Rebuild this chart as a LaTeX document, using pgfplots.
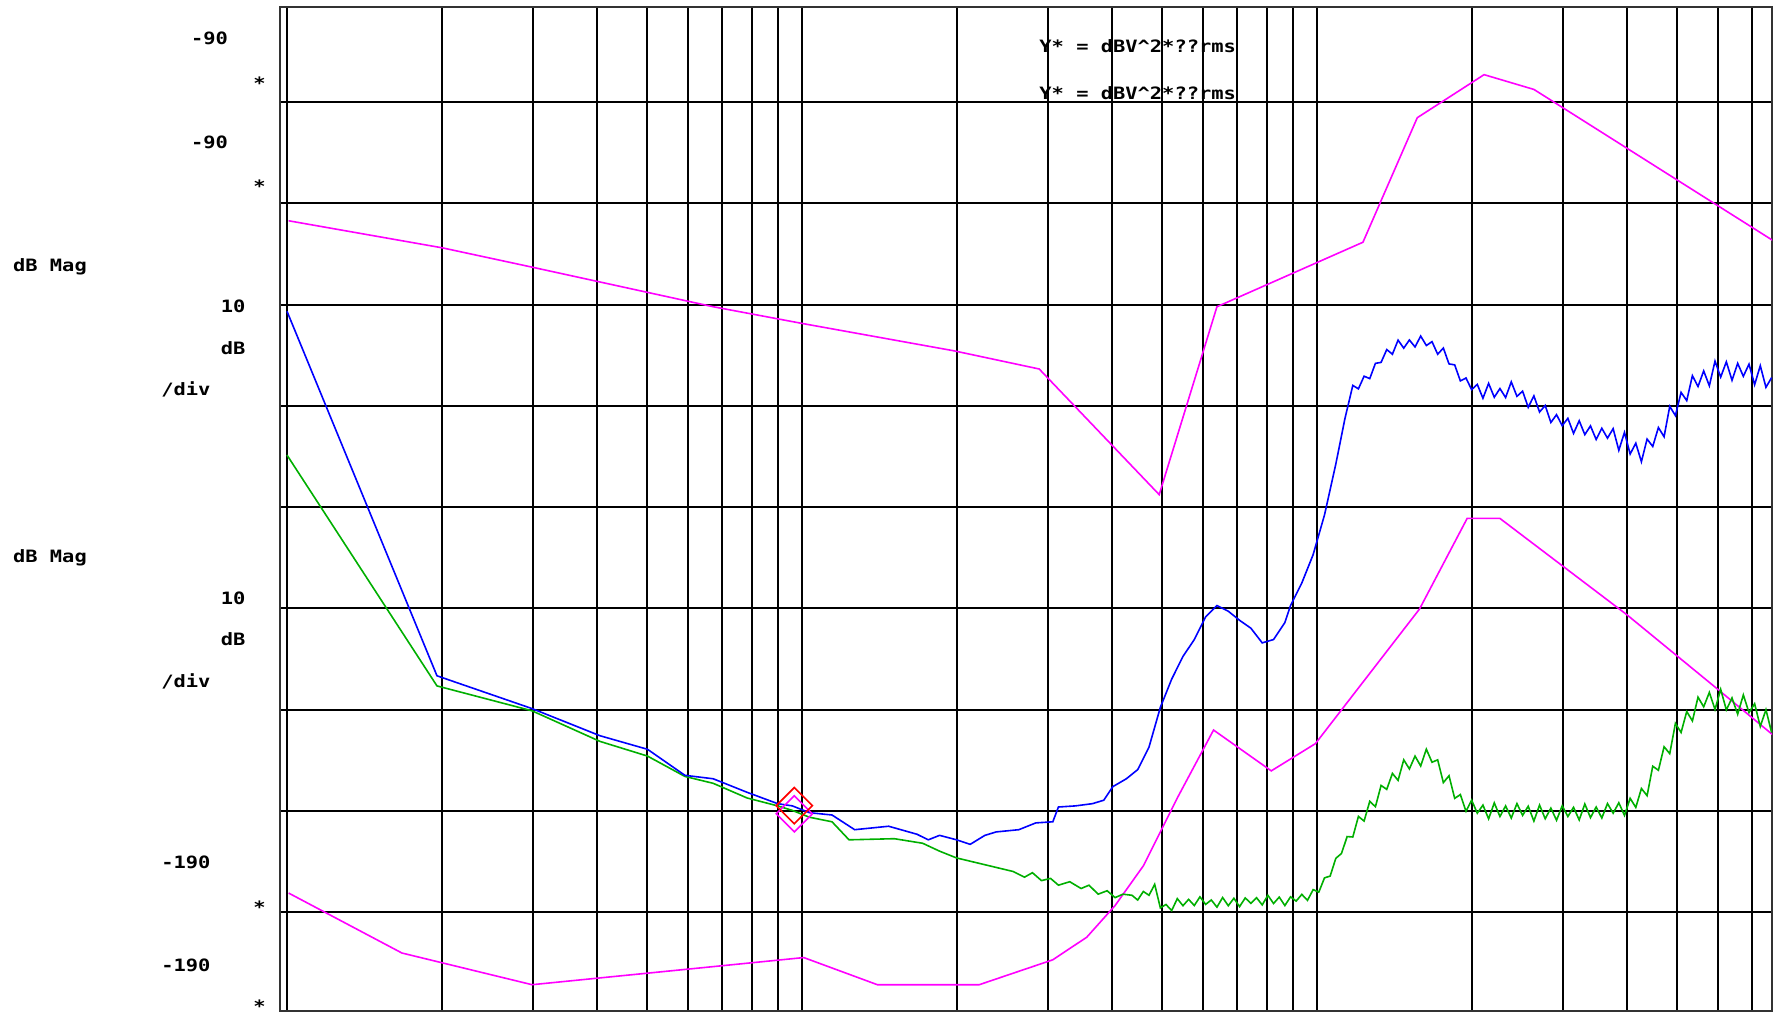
\documentclass[border=0pt]{standalone}
\usepackage{pgfplots}
\pgfplotsset{compat=1.18}
\usepackage{fontspec}
\newfontfamily\hpfont[FakeStretch=1.2]{DejaVu Sans Mono}
\definecolor{hpmag}{RGB}{255,0,255}
\definecolor{hpblue}{RGB}{0,0,255}
\definecolor{hpgreen}{RGB}{0,175,0}
\definecolor{hpred}{RGB}{255,0,0}
\begin{document}
\begin{tikzpicture}
\useasboundingbox (0,0) rectangle (887.5pt,506.5pt);
\begin{axis}[
  at={(140pt,1pt)}, anchor=south west,
  scale only axis, width=746pt, height=502pt,
  xmin=-0.01359, xmax=2.8835, ymin=-189.778, ymax=-90.617,
  xtick={0,0.30103,0.47712,0.60206,0.69897,0.77815,0.84510,0.90309,0.95424,
         1,1.30103,1.47712,1.60206,1.69897,1.77815,1.84510,1.90309,1.95424,
         2,2.30103,2.47712,2.60206,2.69897,2.77815,2.84510},
  ytick={-180,-170,-160,-150,-140,-130,-120,-110,-100},
  xticklabels={}, yticklabels={},
  major tick length=0pt,
  grid=major, major grid style={black, line width=1pt},
  axis line style={black!80, line width=1.2pt},
  clip=true,
]
% magenta upper
\addplot[hpmag, line width=0.8pt] coordinates {
(0.0032,-111.73) (0.3022,-114.41) (0.4758,-116.31) (0.8275,-120.22) (1.0034,-121.90)
(1.2957,-124.58) (1.4606,-126.37) (1.6936,-138.78) (1.8057,-120.22) (2.0892,-113.85)
(2.1947,-101.55) (2.3244,-97.30) (2.4212,-98.76) (2.8871,-113.74)};
% magenta lower
\addplot[hpmag, line width=0.8pt] coordinates {
(0.0032,-178.13) (0.2231,-184.05) (0.4758,-187.18) (1.0034,-184.50) (1.1463,-187.18)
(1.3441,-187.18) (1.4870,-184.72) (1.5529,-182.49) (1.6079,-179.36) (1.6628,-175.44)
(1.7287,-168.74) (1.7991,-162.03) (1.9112,-166.06) (1.9969,-163.37) (2.1991,-150.07)
(2.2915,-141.13) (2.3552,-141.13) (2.6014,-150.63) (2.7728,-157.78) (2.8871,-162.59)};
% green
\addplot[hpgreen, line width=0.8pt] coordinates {
(0.0,-134.87) (0.2912,-157.67) (0.4758,-160.13) (0.6077,-163.15) (0.7000,-164.60)
(0.7726,-166.61) (0.8275,-167.29) (0.8935,-168.74) (0.9528,-169.52) (0.9814,-169.97)
(1.0144,-170.64) (1.0583,-171.09) (1.0913,-172.87) (1.1792,-172.76) (1.2342,-173.21)
(1.2671,-173.99) (1.3001,-174.66) (1.3551,-175.33) (1.4100,-176.00) (1.4320,-176.56)
(1.4474,-176.12) (1.4650,-176.90) (1.4826,-176.68) (1.4979,-177.35) (1.5199,-177.01)
(1.5419,-177.68) (1.5573,-177.35) (1.5749,-178.24) (1.5925,-177.90) (1.6079,-178.58)
(1.6232,-178.24)
(1.6408,-178.35) (1.6518,-178.82) (1.6628,-177.97) (1.6738,-178.35) (1.6848,-177.27)
(1.6958,-179.59) (1.7068,-179.26) (1.7178,-179.86) (1.7287,-178.68) (1.7397,-179.38)
(1.7507,-178.75) (1.7617,-179.36) (1.7727,-178.50) (1.7837,-179.25) (1.7947,-178.81)
(1.8057,-179.52) (1.8167,-178.57) (1.8277,-179.38) (1.8386,-178.64) (1.8496,-179.47)
(1.8606,-178.61) (1.8716,-179.14) (1.8826,-178.59) (1.8936,-179.30) (1.9046,-178.35)
(1.9156,-179.16) (1.9266,-178.53) (1.9376,-179.36) (1.9486,-178.50) (1.9595,-178.92)
(1.9705,-178.26) (1.9815,-178.85) (1.9925,-177.79) (2.0035,-178.04) (2.0145,-176.63)
(2.0255,-176.45) (2.0365,-174.70) (2.0475,-174.22) (2.0585,-172.55) (2.0695,-172.59)
(2.0804,-170.56) (2.0914,-171.02) (2.1024,-169.07) (2.1134,-169.60) (2.1244,-167.50)
(2.1354,-167.89) (2.1464,-166.31) (2.1574,-167.00) (2.1684,-164.97) (2.1794,-165.87)
(2.1903,-164.60) (2.2013,-165.58) (2.2123,-163.92) (2.2233,-165.21) (2.2343,-164.97)
(2.2453,-167.22) (2.2563,-166.54) (2.2673,-168.78) (2.2783,-168.40) (2.2893,-170.05)
(2.3002,-168.95) (2.3112,-170.24) (2.3222,-169.44) (2.3332,-170.80) (2.3442,-169.22)
(2.3552,-170.57) (2.3662,-169.52) (2.3772,-170.72) (2.3882,-169.29) (2.3992,-170.46)
(2.4101,-169.55) (2.4211,-171.02) (2.4321,-169.44) (2.4431,-170.79) (2.4541,-169.74)
(2.4651,-170.94) (2.4761,-169.51) (2.4871,-170.57) (2.4981,-169.66) (2.5091,-170.91)
(2.5200,-169.33) (2.5310,-170.68) (2.5420,-169.63) (2.5530,-170.72) (2.5640,-169.29)
(2.5750,-170.24) (2.5860,-169.21) (2.5970,-170.46) (2.6080,-168.77) (2.6190,-169.67)
(2.6299,-167.80) (2.6409,-168.51) (2.6519,-165.60) (2.6629,-166.00) (2.6739,-163.68)
(2.6849,-164.36) (2.6959,-161.37) (2.7069,-162.27) (2.7179,-160.20) (2.7289,-161.13)
(2.7398,-158.78) (2.7508,-159.74) (2.7618,-158.31) (2.7728,-160.00) (2.7838,-158.01)
(2.7948,-160.04) (2.8058,-158.86) (2.8168,-160.46) (2.8278,-158.56) (2.8388,-160.30)
(2.8497,-159.43) (2.8607,-161.68) (2.8717,-160.02) (2.8827,-162.27)};
% blue
\addplot[hpblue, line width=0.8pt] coordinates {
(0.0,-120.67) (0.2912,-156.67) (0.4758,-159.91) (0.6077,-162.59) (0.7000,-163.93)
(0.7726,-166.50) (0.8275,-166.84) (0.8935,-168.18) (0.9528,-169.30) (0.9814,-169.52)
(1.0144,-170.19) (1.0583,-170.42) (1.1023,-171.87) (1.1682,-171.53) (1.2232,-172.32)
(1.2452,-172.87) (1.2671,-172.43) (1.3001,-172.87) (1.3265,-173.32) (1.3551,-172.43)
(1.3771,-172.09) (1.4210,-171.87) (1.4540,-171.20) (1.4870,-171.09) (1.4979,-169.63)
(1.5309,-169.52) (1.5639,-169.30) (1.5859,-168.96) (1.6035,-167.62) (1.6298,-166.84)
(1.6518,-165.94) (1.6738,-163.71) (1.6958,-159.79) (1.7178,-157.00) (1.7397,-154.76)
(1.7617,-153.09) (1.7837,-150.85) (1.8057,-149.73) (1.8277,-150.29) (1.8496,-151.19)
(1.8716,-151.97) (1.8936,-153.42) (1.9156,-153.09) (1.9376,-151.41) (1.9486,-149.73)
(1.9705,-147.50) (1.9925,-144.70) (2.0145,-140.79) (2.0365,-135.76) (2.0541,-131.29)
(2.0695,-127.99) (2.0804,-128.33) (2.0914,-127.08) (2.1024,-127.32) (2.1134,-125.81)
(2.1244,-125.72) (2.1354,-124.45) (2.1464,-124.91) (2.1574,-123.52) (2.1684,-124.31)
(2.1794,-123.50) (2.1903,-124.19) (2.2013,-123.12) (2.2123,-124.05) (2.2233,-123.67)
(2.2343,-124.91) (2.2453,-124.30) (2.2563,-125.87) (2.2673,-125.96) (2.2783,-127.54)
(2.2893,-127.26) (2.3002,-128.41) (2.3112,-127.89) (2.3222,-129.26) (2.3332,-127.79)
(2.3442,-129.16) (2.3552,-128.30) (2.3662,-129.19) (2.3772,-127.64) (2.3882,-129.07)
(2.3992,-128.56) (2.4101,-130.16) (2.4211,-129.02) (2.4321,-130.62) (2.4431,-129.97)
(2.4541,-131.65) (2.4651,-130.88) (2.4761,-131.97) (2.4871,-131.24) (2.4981,-132.73)
(2.5091,-131.48) (2.5200,-132.85) (2.5310,-131.99) (2.5420,-133.33) (2.5530,-132.22)
(2.5640,-133.20) (2.5750,-132.26) (2.5860,-134.40) (2.5970,-132.63) (2.6080,-134.77)
(2.6190,-133.70) (2.6299,-135.53) (2.6409,-133.29) (2.6519,-134.02) (2.6629,-132.15)
(2.6739,-133.06) (2.6849,-130.06) (2.6959,-130.97) (2.7069,-128.68) (2.7179,-129.49)
(2.7289,-127.03) (2.7398,-128.10) (2.7508,-126.56) (2.7618,-128.03) (2.7728,-125.59)
(2.7838,-127.17) (2.7948,-125.66) (2.8058,-127.48) (2.8168,-125.81) (2.8278,-127.09)
(2.8388,-125.89) (2.8497,-127.92) (2.8607,-126.04) (2.8717,-128.18) (2.8827,-127.22)};
% markers
\addplot[only marks, mark=square, mark size=6.4pt,
  mark options={rotate=45, draw=hpmag, fill=none, line width=0.8pt}] coordinates {(0.985,-170.3)};
\addplot[only marks, mark=square, mark size=6.4pt,
  mark options={rotate=45, draw=hpred, fill=none, line width=0.8pt}] coordinates {(0.985,-169.5)};
\end{axis}
\begin{scope}[every node/.style={inner sep=0pt, text=black,
  font={\hpfont\bfseries\fontsize{8.5pt}{10pt}\selectfont}}]
\node[anchor=base west] at (95.3pt,484pt) {-90};
\node[anchor=base west] at (126.5pt,461.5pt) {*};
\node[anchor=base west] at (95.3pt,432.2pt) {-90};
\node[anchor=base west] at (126.5pt,410pt) {*};
\node[anchor=base west] at (6.35pt,370.6pt) {dB Mag};
\node[anchor=base west] at (110.25pt,350pt) {10};
\node[anchor=base west] at (110.25pt,329.35pt) {dB};
\node[anchor=base west] at (80.5pt,308.5pt) {/div};
\node[anchor=base west] at (6.35pt,225.15pt) {dB Mag};
\node[anchor=base west] at (110.25pt,204.5pt) {10};
\node[anchor=base west] at (110.25pt,183.85pt) {dB};
\node[anchor=base west] at (80.5pt,163pt) {/div};
\node[anchor=base west] at (80.5pt,72.15pt) {-190};
\node[anchor=base west] at (126.5pt,50pt) {*};
\node[anchor=base west] at (80.5pt,21pt) {-190};
\node[anchor=base west] at (126.5pt,0.5pt) {*};
\node[anchor=base west] at (519.5pt,480pt) {Y* = dBV\textasciicircum 2*??rms};
\node[anchor=base west] at (519.5pt,456.5pt) {Y* = dBV\textasciicircum 2*??rms};
\end{scope}
\end{tikzpicture}
\end{document}
